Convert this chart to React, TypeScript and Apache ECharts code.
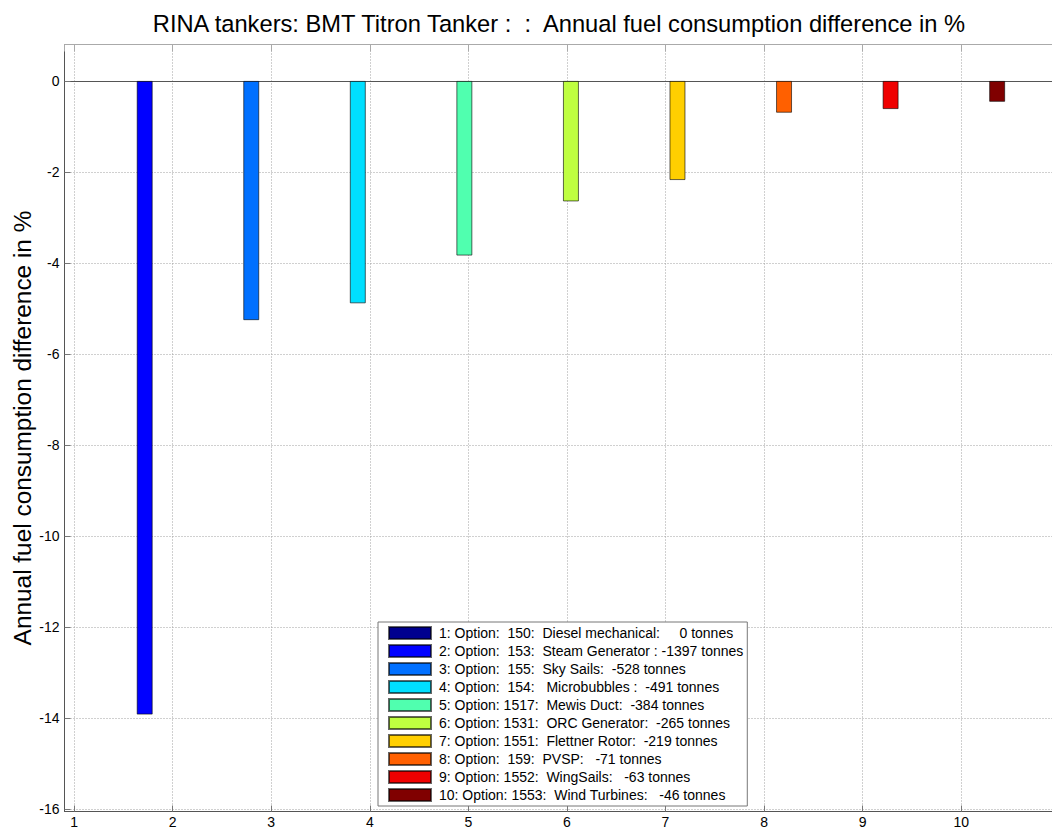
import React, { useEffect, useRef } from "react";
import * as echarts from "echarts";

// ---- data ----
const optionNumbers = [1, 2, 3, 4, 5, 6, 7, 8, 9, 10];
const fuelDiffPct = [0, -13.93, -5.26, -4.89, -3.84, -2.65, -2.18, -0.7, -0.62, -0.46];
const legendLabels = [
  "1: Option:  150:  Diesel mechanical:     0 tonnes",
  "2: Option:  153:  Steam Generator : -1397 tonnes",
  "3: Option:  155:  Sky Sails:  -528 tonnes",
  "4: Option:  154:   Microbubbles :  -491 tonnes",
  "5: Option: 1517:  Mewis Duct:  -384 tonnes",
  "6: Option: 1531:  ORC Generator:  -265 tonnes",
  "7: Option: 1551:  Flettner Rotor:  -219 tonnes",
  "8: Option:  159:  PVSP:   -71 tonnes",
  "9: Option: 1552:  WingSails:   -63 tonnes",
  "10: Option: 1553:  Wind Turbines:   -46 tonnes",
];
const barColors = [
  "#00008F", "#0000FF", "#0070FF", "#00DFFF", "#50FFAF",
  "#BFFF40", "#FFCF00", "#FF6000", "#EF0000", "#800000",
];
const titleText = "RINA tankers: BMT Titron Tanker :  :  Annual fuel consumption difference in %";
const yAxisTitle = "Annual fuel consumption difference in %";

// grouped-bar layout (MATLAB style: series k sits at offset within group k)
const groupStep = 0.081;

export default function App() {
  const ref = useRef<HTMLDivElement>(null);
  useEffect(() => {
    if (!ref.current) return;
    const chart = echarts.init(ref.current, undefined, { renderer: "svg" });
    const n = optionNumbers.length;
    const series = optionNumbers.map((k, i) => ({
      type: "bar",
      name: legendLabels[i],
      xAxisIndex: 0,
      yAxisIndex: 0,
      barWidth: 16,
      barGap: "-100%",
      clip: true,
      data: [
        {
          value: [k + (k - (n + 1) / 2) * groupStep, fuelDiffPct[i]],
          // a zero-height bar draws nothing (its outline would otherwise show as a dash)
          itemStyle: fuelDiffPct[i] === 0 ? { borderWidth: 0, opacity: 0 } : undefined,
        },
      ],
      itemStyle: { color: barColors[i], borderColor: "rgba(0,0,0,0.6)", borderWidth: 1 },
    }));

    const gridLine = { show: true, lineStyle: { color: "#a0a0a0", type: [1, 2], width: 1 } };
    const font = "Liberation Sans, Arial";
    chart.setOption({
      animation: false,
      backgroundColor: "#fff",
      title: {
        text: titleText,
        left: 554,
        top: 7,
        textAlign: "center",
        textStyle: { fontFamily: font, fontWeight: "normal", fontSize: 23.7, color: "#000" },
      },
      grid: { left: 64.5, top: 44.5, width: 988.4, height: 767, containLabel: false, outerBoundsMode: "none" },
      legend: {
        show: true,
        orient: "vertical",
        left: 378,
        top: 622,
        padding: [4, 4, 4, 10],
        itemWidth: 42,
        itemHeight: 12,
        itemGap: 4,
        backgroundColor: "#fff",
        borderColor: "#777",
        borderWidth: 1,
        borderRadius: 0,
        icon: "rect",
        selectedMode: false,
        textStyle: { fontFamily: font, fontSize: 14, lineHeight: 14, color: "#000", padding: [0, 0, 0, 3] },
        data: legendLabels,
      },
      xAxis: [
        {
          type: "value",
          position: "bottom",
          min: 0.903,
          max: 10.93,
          minInterval: 1,
          maxInterval: 1,
          axisLine: { show: true, onZero: false, lineStyle: { color: "#555" } },
          axisTick: { show: true, inside: true, length: 6, lineStyle: { color: "#777" } },
          axisLabel: {
            margin: 3,
            fontFamily: font,
            fontSize: 14,
            color: "#000",
            showMinLabel: false,
            showMaxLabel: false,
            formatter: (v: number) => (Number.isInteger(v) ? String(v) : ""),
          },
          splitLine: gridLine,
        },
        {
          type: "value",
          position: "top",
          min: 0.903,
          max: 10.93,
          minInterval: 1,
          maxInterval: 1,
          axisLine: { show: true, onZero: false, lineStyle: { color: "#aaa" } },
          axisTick: { show: true, inside: true, length: 7, lineStyle: { color: "#aaa" } },
          axisLabel: { show: false },
          splitLine: { show: false },
        },
        {
          // zero baseline of the bars
          type: "value",
          position: "bottom",
          min: 0.903,
          max: 10.93,
          axisLine: { show: true, onZero: true, onZeroAxisIndex: 0, lineStyle: { color: "#555", width: 1 } },
          axisTick: { show: false },
          axisLabel: { show: false },
          splitLine: { show: false },
        },
      ],
      yAxis: {
        type: "value",
        min: -16.06,
        max: 0.8,
        minInterval: 2,
        maxInterval: 2,
        name: yAxisTitle,
        nameLocation: "middle",
        nameGap: 30,
        nameMoveOverlap: false,
        nameTextStyle: { fontFamily: font, fontSize: 24.4, color: "#000" },
        axisLine: { show: true, onZero: false, lineStyle: { color: "#555" } },
        axisTick: { show: true, inside: true, length: 6, lineStyle: { color: "#777" } },
        axisLabel: {
          margin: 5,
          fontFamily: font,
          fontSize: 14,
          color: "#000",
          showMinLabel: false,
          showMaxLabel: false,
          formatter: (v: number) => (Number.isInteger(v) && v % 2 === 0 ? String(v) : ""),
        },
        splitLine: gridLine,
      },
      series,
    });
    return () => chart.dispose();
  }, []);
  return (
    <div
      ref={ref}
      style={{ position: "fixed", left: 0, top: 0, width: 1060, height: 830, background: "#fff" }}
    />
  );
}
